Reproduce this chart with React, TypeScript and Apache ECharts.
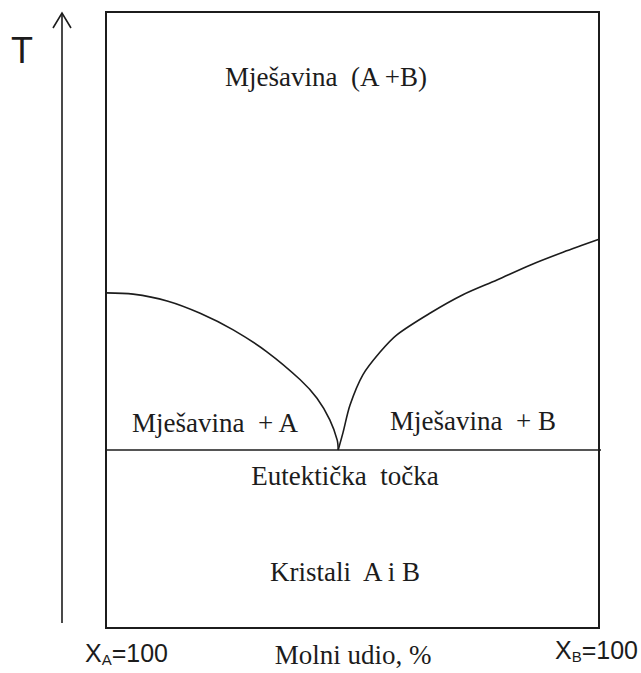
import React, { useEffect, useRef } from "react";
import * as echarts from "echarts";

// Composition (mole fraction of B, %) and temperature (relative units)
const leftX = [0, 5.5, 12.4, 19.1, 25.8, 32.7, 39.4, 42.8, 45.4, 46.9, 47.1];
const leftT = [54.4, 54.2, 53.1, 51.1, 48.4, 44.8, 40.3, 37.3, 33.8, 30.5, 28.9];
const rightX = [47.1, 48.1, 49.5, 52.1, 55.6, 59.0, 65.7, 72.4, 79.3, 86.0, 92.7, 100];
const rightT = [28.9, 31.8, 36.2, 41.1, 44.8, 47.6, 51.1, 54.1, 56.5, 58.9, 61.0, 63.1];
const eutecticX = [0, 101.2];
const eutecticT = 28.9;

const regionLabels = {
  liquid: "Mješavina  (A +B)",
  liqA: "Mješavina  + A",
  liqB: "Mješavina  + B",
  eutectic: "Eutektička  točka",
  solid: "Kristali  A i B",
};
const xAxisName = "Molni udio, %";
const yAxisName = "T";

const SERIF = "Times New Roman, Liberation Serif, DejaVu Serif, serif";
const SANS = "Liberation Sans";
const INK = "#1c1c1c";

export default function App() {
  const ref = useRef<HTMLDivElement>(null);

  useEffect(() => {
    if (!ref.current) return;
    const chart = echarts.init(ref.current, undefined, { renderer: "svg" });
    const lineStyle = { color: INK, width: 1.6 };
    const serifText = (text: string, x: number, y: number, align = "center") => ({
      type: "text",
      x,
      y,
      style: {
        text,
        fill: INK,
        fontFamily: SERIF,
        fontSize: 27,
        textAlign: align,
        textVerticalAlign: "middle",
      },
    });
    const subText = (main: string, sub: string, x: number, y: number) => ({
      type: "text",
      x,
      y,
      style: {
        text: `{x|X}{s|${sub}}{x|${main}}`,
        fill: INK,
        textAlign: "left",
        textVerticalAlign: "middle",
        rich: {
          x: { fontFamily: SANS, fontSize: 25, fill: INK, lineHeight: 28, verticalAlign: "middle" },
          s: { fontFamily: SANS, fontSize: 15, fill: INK, lineHeight: 28, verticalAlign: "bottom" },
        },
      },
    });
    chart.setOption({
      animation: false,
      backgroundColor: "#fff",
      grid: {
        left: 106,
        top: 12,
        width: 493,
        height: 616,
        show: true,
        borderColor: INK,
        borderWidth: 2,
        backgroundColor: "transparent",
      },
      xAxis: { type: "value", min: 0, max: 100, show: false },
      yAxis: { type: "value", min: 0, max: 100, show: false },
      series: [
        {
          type: "line",
          data: leftX.map((x, i) => [x, leftT[i]]),
          smooth: 0.3,
          symbol: "none",
          lineStyle,
        },
        {
          type: "line",
          data: rightX.map((x, i) => [x, rightT[i]]),
          smooth: 0.3,
          symbol: "none",
          lineStyle,
        },
        {
          type: "line",
          data: eutecticX.map((x) => [x, eutecticT]),
          symbol: "none",
          clip: false,
          lineStyle: { color: INK, width: 1.6 },
        },
      ],
      graphic: [
        {
          type: "line",
          shape: { x1: 62, y1: 623, x2: 62, y2: 14 },
          style: { stroke: INK, lineWidth: 1.6 },
        },
        {
          type: "polyline",
          shape: { points: [[53, 28], [62, 13], [71, 28]] },
          style: { stroke: INK, lineWidth: 1.6, fill: "none" },
        },
        {
          type: "text",
          x: 22,
          y: 50,
          style: {
            text: yAxisName,
            fill: INK,
            fontFamily: SANS,
            fontSize: 36,
            textAlign: "center",
            textVerticalAlign: "middle",
          },
        },
        serifText(regionLabels.liquid, 326, 77),
        serifText(regionLabels.liqA, 132, 423, "left"),
        serifText(regionLabels.liqB, 390, 421, "left"),
        serifText(regionLabels.eutectic, 345, 476),
        serifText(regionLabels.solid, 345, 572),
        serifText(xAxisName, 353, 655),
        subText("=100", "A", 85, 653),
        subText("=100", "B", 555, 650),
      ],
    });
    return () => chart.dispose();
  }, []);

  return (
    <div
      ref={ref}
      style={{ position: "fixed", left: 0, top: 0, width: 641, height: 673, background: "#fff" }}
    />
  );
}
